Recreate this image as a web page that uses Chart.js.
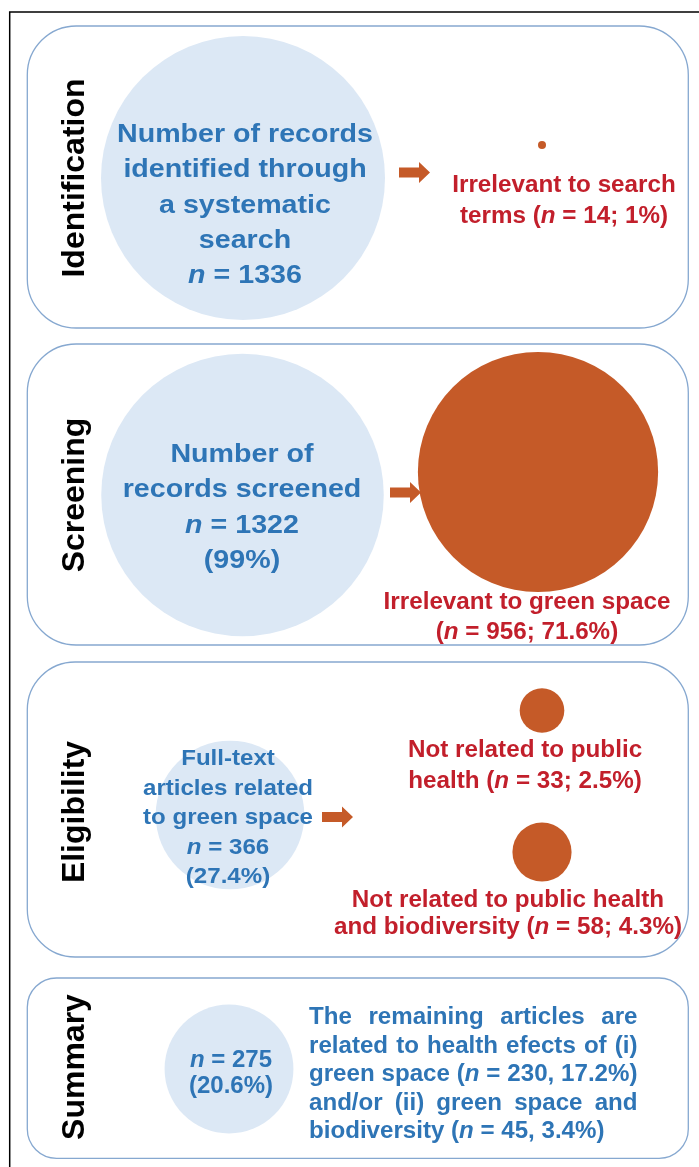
<!DOCTYPE html>
<html><head><meta charset="utf-8">
<script src="https://cdn.jsdelivr.net/npm/chart.js@4/dist/chart.umd.min.js"></script>
<style>html,body{margin:0;padding:0;background:#fff;}canvas{display:block;}</style>
</head><body>
<canvas id="c" width="699" height="1167"></canvas>
<script>
// ---------------- DATA ----------------
const stages = ['Identification', 'Screening', 'Eligibility', 'Summary'];
const includedCounts = [1336, 1322, 366, 275];
const includedShares = ['', '99%', '27.4%', '20.6%'];
const includedLabels = ['Number of records identified through a systematic search', 'Number of records screened', 'Full-text articles related to green space', ''];
const excludedStage = [0, 1, 2, 2];
const excludedCounts = [14, 956, 33, 58];
const excludedShares = ['1%', '71.6%', '2.5%', '4.3%'];
const excludedReasons = ['Irrelevant to search terms', 'Irrelevant to green space', 'Not related to public health', 'Not related to public health and biodiversity'];
const summaryGroups = ['green space', 'green space and biodiversity'];
const summaryCounts = [230, 45];
const summaryShares = ['17.2%', '3.4%'];

// ---------------- LAYOUT (positions / styles) ----------------
const FONT = '"Liberation Sans", Arial, Helvetica, sans-serif';
const BLUE = '#2e75b6', RED = '#c21f2b', ORANGE = '#c55a28', LIGHT = '#dce8f5', PANEL = '#86a8d0';
const L = {
  panels: [[27.3, 26, 688.3, 328], [27.3, 344, 688.3, 645], [27.3, 662, 688.3, 957], [27.3, 978, 688.3, 1158.3]],
  stageX: 84, stageY: [178, 495, 812, 1067],
  incPos: [[243, 178], [242.5, 495], [230, 815], [229, 1069]],
  excPos: [[542, 145], [538, 472], [542, 710.5], [542, 852]],
  arrows: [[399, 172.5], [390, 492.5], [322, 817]],
  incText: [
    {x: 245, y: [132.5, 167.5, 203, 238, 273], size: 26.5, sx: 1.08, breaks: [3, 5, 7]},
    {x: 242, y: [452, 487, 523, 558], size: 26.5, sx: 1.08, breaks: [2]},
    {x: 228, y: [757, 786.5, 816, 845.5, 875], size: 22.5, sx: 1.07, breaks: [1, 3]},
    {x: 231, y: [1058.5, 1084.5], size: 23.3, sx: 1.03, breaks: []}
  ],
  excText: [
    {x: 564, y: [183.5, 214.5], first: 3},
    {x: 527, y: [601, 630.5], first: 4},
    {x: 525, y: [748.5, 780], first: 4},
    {x: 508, y: [898.3, 925.5], first: 5}
  ],
  redSize: 23.3, redSx: 1.04,
  para: {left: 309, right: 637.5, y: [1016, 1044.5, 1073, 1101.7, 1130], size: 23.3, sx: 1.035, lines: [4, 6, 6, 5]},
  dotR: 4
};
const K = 142 / Math.sqrt(includedCounts[0]);

// ---------------- TEXT HELPERS ----------------
function segs(str) { // '*n*' marks italic
  return str.split('*').map((t, i) => ({t, it: i % 2 === 1})).filter(s => s.t.length);
}
function fontOf(size, it) { return (it ? 'italic ' : '') + 'bold ' + size + 'px ' + FONT; }
function segWidth(ctx, ss, size) {
  let w = 0; ss.forEach(s => { ctx.font = fontOf(size, s.it); w += ctx.measureText(s.t).width; }); return w;
}
function drawSegs(ctx, ss, x, baseY, size, sx) {
  ctx.save(); ctx.translate(x, baseY); ctx.scale(sx, 1);
  let cx = 0;
  ss.forEach(s => { ctx.font = fontOf(size, s.it); ctx.fillText(s.t, cx, 0); cx += ctx.measureText(s.t).width; });
  ctx.restore();
}
function drawCentered(ctx, str, cx, cy, size, sx, color) {
  ctx.fillStyle = color; ctx.textBaseline = 'alphabetic'; ctx.textAlign = 'left';
  const ss = segs(str); const w = segWidth(ctx, ss, size) * sx;
  drawSegs(ctx, ss, cx - w / 2, cy + 0.36 * size, size, sx);
}
function drawJustified(ctx, words, left, right, cy, size, sx, color, justify) {
  ctx.fillStyle = color; ctx.textBaseline = 'alphabetic'; ctx.textAlign = 'left';
  const ws = words.map(w => segs(w));
  const widths = ws.map(s => segWidth(ctx, s, size) * sx);
  ctx.font = fontOf(size, false);
  const space = ctx.measureText(' ').width * sx;
  const total = widths.reduce((a, b) => a + b, 0);
  const gap = justify && ws.length > 1 ? (right - left - total) / (ws.length - 1) : space;
  let x = left;
  ws.forEach((s, i) => { drawSegs(ctx, s, x, cy + 0.36 * size, size, sx); x += widths[i] + gap; });
}
function splitLines(words, breaks) {
  const out = []; let prev = 0;
  breaks.concat([words.length]).forEach(b => { out.push(words.slice(prev, b).join(' ')); prev = b; });
  return out.filter(s => s.length);
}

// ---------------- PLUGINS ----------------
const panelsPlugin = {
  id: 'panels',
  beforeDatasetsDraw(chart) {
    const {ctx, scales: {x, y}} = chart;
    ctx.save();
    ctx.fillStyle = '#fff'; ctx.fillRect(0, 0, chart.width, chart.height);
    ctx.strokeStyle = '#000'; ctx.lineWidth = 1.5;
    ctx.strokeRect(x.getPixelForValue(9.7), y.getPixelForValue(12), 800, 1300);
    ctx.strokeStyle = PANEL; ctx.lineWidth = 1.3;
    L.panels.forEach(p => {
      const x0 = x.getPixelForValue(p[0]), y0 = y.getPixelForValue(p[1]);
      const x1 = x.getPixelForValue(p[2]), y1 = y.getPixelForValue(p[3]);
      const r = 0.162 * (y1 - y0);
      ctx.beginPath(); ctx.roundRect(x0, y0, x1 - x0, y1 - y0, r); ctx.stroke();
    });
    ctx.restore();
  }
};
const textPlugin = {
  id: 'texts',
  afterDatasetsDraw(chart) {
    const {ctx, scales: {x, y}} = chart;
    const X = v => x.getPixelForValue(v), Y = v => y.getPixelForValue(v);
    ctx.save();
    // stage labels (vertical)
    stages.forEach((s, i) => {
      ctx.save(); ctx.translate(X(L.stageX), Y(L.stageY[i])); ctx.rotate(-Math.PI / 2);
      ctx.font = 'bold 32px ' + FONT; ctx.fillStyle = '#000'; ctx.textAlign = 'center'; ctx.textBaseline = 'alphabetic';
      ctx.fillText(s, 0, 0); ctx.restore();
    });
    // arrows
    ctx.fillStyle = ORANGE;
    L.arrows.forEach(a => {
      const x0 = X(a[0]), cy = Y(a[1]);
      ctx.beginPath();
      ctx.moveTo(x0, cy - 5); ctx.lineTo(x0 + 20, cy - 5); ctx.lineTo(x0 + 20, cy - 10.5);
      ctx.lineTo(x0 + 31, cy); ctx.lineTo(x0 + 20, cy + 10.5); ctx.lineTo(x0 + 20, cy + 5);
      ctx.lineTo(x0, cy + 5); ctx.closePath(); ctx.fill();
    });
    // included (blue) texts
    includedCounts.forEach((n, i) => {
      const t = L.incText[i];
      const lines = splitLines(includedLabels[i] ? includedLabels[i].split(' ') : [], t.breaks);
      lines.push('*n* = ' + n);
      if (includedShares[i]) lines.push('(' + includedShares[i] + ')');
      lines.forEach((ln, k) => drawCentered(ctx, ln, X(t.x), Y(t.y[k]), t.size, t.sx, BLUE));
    });
    // excluded (red) texts
    excludedCounts.forEach((n, i) => {
      const t = L.excText[i];
      const words = excludedReasons[i].split(' ');
      const l1 = words.slice(0, t.first).join(' ');
      const rest = words.slice(t.first).join(' ');
      const l2 = (rest ? rest + ' ' : '') + '(*n* = ' + n + '; ' + excludedShares[i] + ')';
      drawCentered(ctx, l1, X(t.x), Y(t.y[0]), L.redSize, L.redSx, RED);
      drawCentered(ctx, l2, X(t.x), Y(t.y[1]), L.redSize, L.redSx, RED);
    });
    // summary paragraph
    const para = 'The remaining articles are related to health efects of (i) ' + summaryGroups[0] +
      ' (*n* = ' + summaryCounts[0] + ', ' + summaryShares[0] + ') and/or (ii) ' + summaryGroups[1] +
      ' (*n* = ' + summaryCounts[1] + ', ' + summaryShares[1] + ')';
    const words = para.split(' ');
    const P = L.para; let idx = 0;
    const counts = P.lines.concat([words.length]);
    counts.forEach((c, k) => {
      const lw = words.slice(idx, idx + c); idx += c;
      if (!lw.length) return;
      drawJustified(ctx, lw, X(P.left), X(P.right), Y(P.y[k]), P.size, P.sx, BLUE, k < P.lines.length);
    });
    ctx.restore();
  }
};

// ---------------- CHART ----------------
new Chart(document.getElementById('c').getContext('2d'), {
  type: 'bubble',
  data: {
    datasets: [
      {
        label: 'Included records',
        data: includedCounts.map((n, i) => ({x: L.incPos[i][0], y: L.incPos[i][1], r: K * Math.sqrt(n)})),
        backgroundColor: LIGHT, borderWidth: 0, hoverRadius: 0, clip: false
      },
      {
        label: 'Excluded records',
        data: excludedCounts.map((n, i) => ({x: L.excPos[i][0], y: L.excPos[i][1], r: i === 0 ? L.dotR : K * Math.sqrt(n)})),
        backgroundColor: ORANGE, borderWidth: 0, hoverRadius: 0, clip: false
      }
    ]
  },
  options: {
    responsive: false, animation: false, devicePixelRatio: 1, events: [],
    layout: {padding: 0, autoPadding: false},
    plugins: {legend: {display: false}, tooltip: {enabled: false}},
    scales: {
      x: {type: 'linear', min: 0, max: 699, display: false},
      y: {type: 'linear', min: 0, max: 1167, reverse: true, display: false}
    }
  },
  plugins: [panelsPlugin, textPlugin]
});
</script>
</body></html>
